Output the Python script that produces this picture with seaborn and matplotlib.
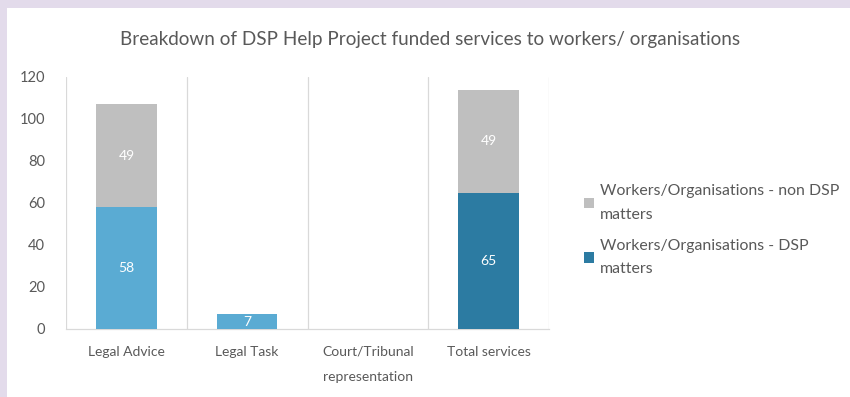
import matplotlib
matplotlib.use("Agg")
import matplotlib.pyplot as plt
from matplotlib.patches import Patch, Rectangle
import seaborn as sns
import pandas as pd

categories = ["Legal Advice", "Legal Task", "Court/Tribunal\nrepresentation", "Total services"]
dsp_matters = [58, 7, 0, 65]
non_dsp_matters = [49, 0, 0, 49]
y_ticks = [0, 20, 40, 60, 80, 100, 120]
series_names = ["Workers/Organisations - non DSP\nmatters", "Workers/Organisations - DSP\nmatters"]
title = "Breakdown of DSP Help Project funded services to workers/ organisations"

bar_colors = ["#5aabd3", "#5aabd3", "#5aabd3", "#2c7ba2"]
grey = "#bfbfbf"
dark = "#2c7ba2"
text_col = "#595959"
grid_col = "#d9d9d9"

sns.set_theme(style="white")
plt.rcParams["font.family"] = ["Lato", "DejaVu Sans"]

df = pd.DataFrame({
    "category": categories,
    "dsp": dsp_matters,
    "non_dsp": non_dsp_matters,
})
df["total"] = df["dsp"] + df["non_dsp"]

W, H = 850, 397
fig = plt.figure(figsize=(W / 100, H / 100), dpi=100, facecolor="#e3dbeb")
fig.patches.append(Rectangle((7 / W, 0), 1, (H - 8) / H, transform=fig.transFigure,
                             facecolor="white", edgecolor="none", zorder=-5))

ax = fig.add_axes([66 / W, (H - 329) / H, (549 - 66) / W, (329 - 77) / H])
ax.set_zorder(2)
ax.set_facecolor("none")

# stacked bars: full height in grey, DSP portion drawn over the lower part
sns.barplot(data=df, x="category", y="total", color=grey, width=0.5,
            saturation=1, linewidth=0, ax=ax, zorder=3)
sns.barplot(data=df, x="category", y="dsp", hue="category", palette=bar_colors,
            width=0.5, saturation=1, linewidth=0, legend=False, ax=ax, zorder=4)

for i, (d, n) in enumerate(zip(dsp_matters, non_dsp_matters)):
    if d:
        ax.text(i, d / 2, str(d), ha="center", va="center", color="white",
                fontsize=10, zorder=5)
    if n:
        ax.text(i, d + n / 2, str(n), ha="center", va="center", color="white",
                fontsize=10, zorder=5)

ax.set_xlim(-0.5, len(categories) - 0.5)
ax.set_ylim(0, 120)
ax.set_yticks(y_ticks)
ax.set_xlabel("")
ax.set_ylabel("")
for b in [k - 0.5 for k in range(len(categories) + 1)]:
    ax.axvline(b, color=grid_col, lw=0.9, zorder=1)
for s in ["top", "right", "left"]:
    ax.spines[s].set_visible(False)
ax.spines["bottom"].set_color(grid_col)
ax.spines["bottom"].set_linewidth(0.9)
ax.tick_params(axis="both", length=0, colors=text_col, labelsize=10)
ax.tick_params(axis="y", pad=15, labelsize=10.5)
ax.tick_params(axis="x", pad=12)
for lab in ax.get_xticklabels():
    lab.set_linespacing(2.3)

fig.text(430 / W, (H - 40) / H, title, ha="center", va="center",
         color=text_col, fontsize=13.6)

handles = [Patch(facecolor=grey, edgecolor="none"), Patch(facecolor=dark, edgecolor="none")]
leg = fig.legend(handles, series_names, loc="upper left",
                 bbox_to_anchor=(570 / W, (H - 170) / H), frameon=False,
                 fontsize=11.4, handlelength=0.62, handleheight=0.62,
                 handletextpad=0.35, labelspacing=1.1)
for t in leg.get_texts():
    t.set_color(text_col)
    t.set_linespacing(1.85)

fig.savefig("out.png", dpi=100, facecolor=fig.get_facecolor())
